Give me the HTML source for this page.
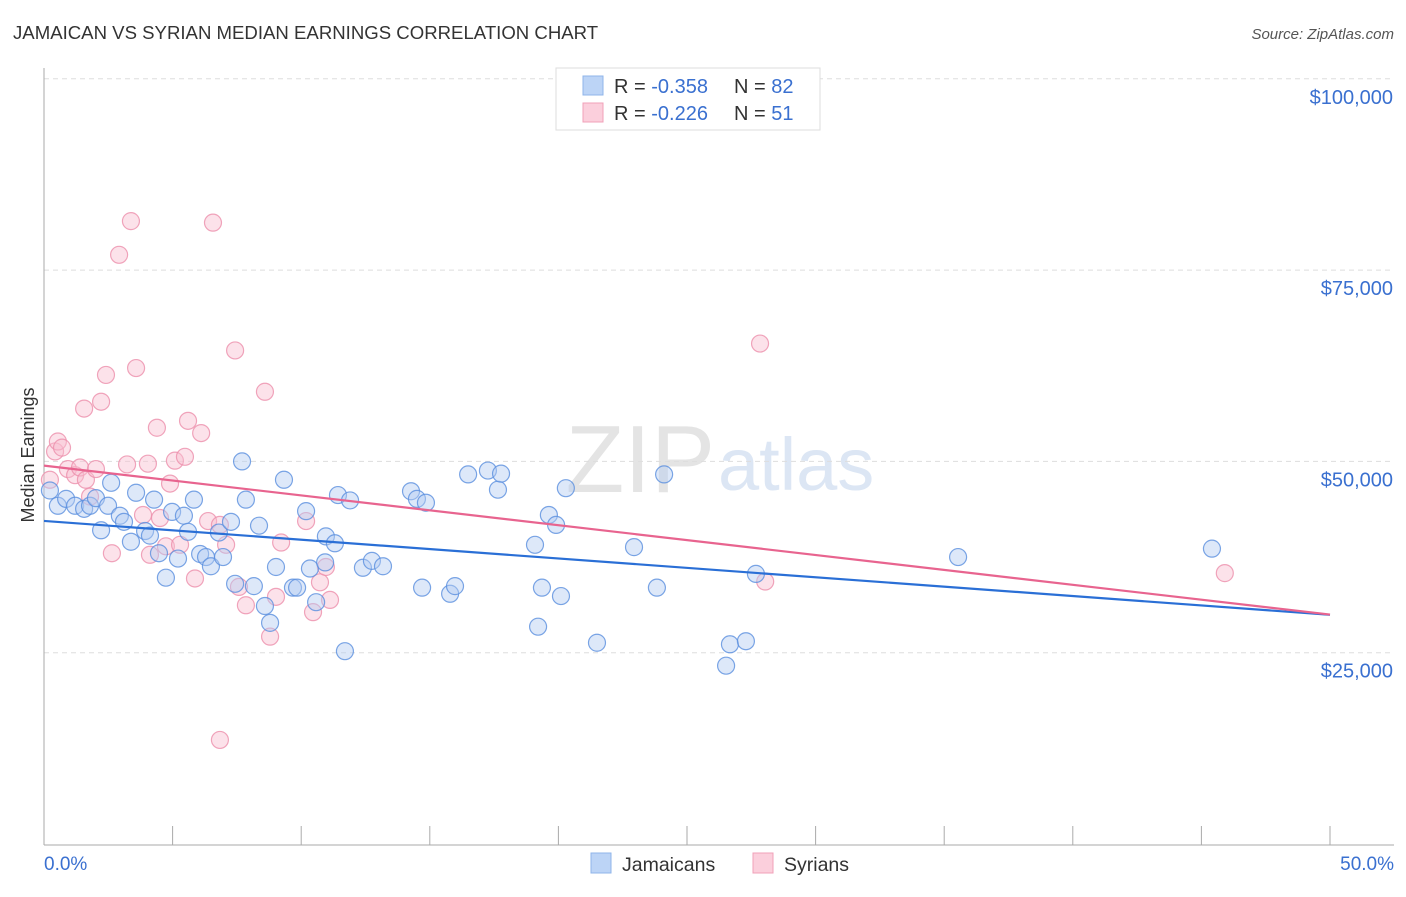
<!DOCTYPE html>
<html><head><meta charset="utf-8"><style>
body{margin:0;background:#fff;font-family:"Liberation Sans",sans-serif}
svg text{font-family:"Liberation Sans",sans-serif}
</style></head><body>
<svg id="chart" width="1406" height="892" xmlns="http://www.w3.org/2000/svg">
<text x="13" y="39" font-size="18.6" fill="#333">JAMAICAN VS SYRIAN MEDIAN EARNINGS CORRELATION CHART</text>
<text x="1394" y="39" font-size="15" fill="#555" font-style="italic" text-anchor="end">Source: ZipAtlas.com</text>
<text x="715" y="492" font-size="96" fill="#e4e4e4" text-anchor="end" font-family="Liberation Serif">ZIP</text>
<text x="718" y="490" font-size="74" fill="#dce6f4">atlas</text>
<text transform="translate(34,455) rotate(-90)" font-size="18" fill="#333" text-anchor="middle">Median Earnings</text>
<g id="grid"></g><g id="axes"></g><g id="pts"></g><g id="lines"></g>
<g>
<rect x="556" y="68" width="264" height="62" fill="#fff" stroke="#ddd"/>
<rect x="583" y="76" width="20" height="19" fill="#bcd4f6" stroke="#8fb4ea"/>
<rect x="583" y="103" width="20" height="19" fill="#fbcfdc" stroke="#f0a0b8"/>
<text x="614" y="93" font-size="20" fill="#333">R = <tspan fill="#3a70d0">-0.358</tspan><tspan x="734">N = </tspan><tspan fill="#3a70d0">82</tspan></text>
<text x="614" y="120" font-size="20" fill="#333">R = <tspan fill="#3a70d0">-0.226</tspan><tspan x="734">N = </tspan><tspan fill="#3a70d0"> 51</tspan></text>
</g>
<g>
<rect x="591" y="853" width="20" height="20" fill="#bcd4f6" stroke="#8fb4ea"/>
<text x="622" y="871" font-size="19.5" fill="#333">Jamaicans</text>
<rect x="753" y="853" width="20" height="20" fill="#fbcfdc" stroke="#f0a0b8"/>
<text x="784" y="871" font-size="19.5" fill="#333">Syrians</text>
</g>
</svg>
<script>
const yTicks=[25000,50000,75000,100000];
const yTickLabels=["$25,000","$50,000","$75,000","$100,000"];
const xTickVals=[0,5,10,15,20,25,30,35,40,45,50];
const jamX=[0.23,0.54,0.86,1.21,1.56,1.79,2.02,2.22,2.49,2.61,2.95,3.11,3.38,3.58,3.93,4.12,4.28,4.47,4.74,4.98,5.21,5.44,5.60,5.83,6.07,6.30,6.49,6.80,6.96,7.27,7.43,7.70,7.85,8.16,8.36,8.59,8.79,9.02,9.33,9.68,9.84,10.19,10.34,10.58,10.96,10.93,11.31,11.43,11.70,11.90,12.40,12.75,13.18,14.27,14.50,14.70,14.85,15.79,15.98,16.49,17.26,17.65,17.77,19.09,19.21,19.36,19.63,19.91,20.10,20.29,21.50,22.94,23.83,24.11,26.52,26.67,27.29,27.68,35.54,45.41];
const jamY=[46200,44200,45100,44200,43800,44200,45200,41000,44200,47200,42900,42100,39500,45900,40900,40300,45000,38000,34800,43400,37300,42900,40800,45000,37900,37500,36300,40700,37500,42100,34000,50000,45000,33700,41600,31100,28900,36200,47600,33500,33500,43500,36000,31600,40200,36800,39300,45600,25200,44900,36100,37000,36300,46100,45100,33500,44600,32700,33700,48300,48800,46300,48400,39100,28400,33500,43000,41700,32400,46500,26300,38800,33500,48300,23300,26100,26500,35300,37500,38600];
const syrX=[0.23,0.43,0.54,0.70,0.93,1.21,1.40,1.63,1.79,2.02,2.22,2.64,2.41,1.56,2.92,3.23,3.38,3.58,3.85,4.04,4.12,4.39,4.51,4.74,4.90,5.09,5.29,5.48,5.60,5.87,6.11,6.38,6.57,6.84,7.08,7.43,7.58,7.85,8.59,8.79,9.02,9.22,10.19,10.46,10.73,10.96,11.12,6.84,27.84,28.04,45.91];
const syrY=[47600,51300,52600,51800,49000,48200,49200,47600,45400,49000,57800,38000,61300,56900,77000,49600,81400,62200,43000,49700,37800,54400,42600,38900,47100,50100,39100,50600,55300,34700,53700,42200,81200,41700,39100,64500,33600,31200,59100,27100,32300,39400,42200,30300,34200,36200,31900,13600,65400,34300,35400];
const xPx=v=>44+v*1286/50, yPx=v=>844-v*191.3/25000;
const NS="http://www.w3.org/2000/svg";
function mk(tag,attrs,parent){const e=document.createElementNS(NS,tag);for(const k in attrs)e.setAttribute(k,attrs[k]);document.getElementById(parent).appendChild(e);return e;}
yTicks.forEach((t,i)=>{
 const g=mk('line',{x1:44,x2:1394,y1:yPx(t),y2:yPx(t),stroke:'#ddd','stroke-dasharray':'5,4'},'grid');
 
 
 const tx=mk('text',{x:1393,y:yPx(t)+25,'font-size':20,fill:'#3a70d0','text-anchor':'end'},'grid');
 tx.textContent=yTickLabels[i];
 
 
});
const ax=mk('line',{x1:44,x2:44,y1:68,y2:845,stroke:'#aaa'},'axes');


const bx=mk('line',{x1:44,x2:1394,y1:845,y2:845,stroke:'#aaa'},'axes');


xTickVals.forEach(v=>{const t=mk('line',{x1:xPx(v),x2:xPx(v),y1:826,y2:845,stroke:'#aaa'},'axes');
 
 });
const l0=mk('text',{x:44,y:870,'font-size':19,fill:'#3a70d0'},'axes');l0.textContent='0.0%';


const l1=mk('text',{x:1394,y:870,'font-size':19,fill:'#3a70d0','text-anchor':'end'},'axes');l1.textContent='50.0%';


function pts(X,Y,fill,stroke,name){X.forEach((x,i)=>{const c=mk('circle',{cx:xPx(x),cy:yPx(Y[i]),r:8.5,fill:fill,'fill-opacity':0.45,stroke:stroke,'stroke-opacity':0.8,'stroke-width':1.2},'pts');
 
 });}
pts(syrX,syrY,'#f9bfd0','#ec8fab','syrian-point');
pts(jamX,jamY,'#b4cdf2','#5a8fde','jamaican-point');
function fit(X,Y){const n=X.length,mx=X.reduce((a,b)=>a+b)/n,my=Y.reduce((a,b)=>a+b)/n;let sxy=0,sxx=0;X.forEach((x,i)=>{sxy+=(x-mx)*(Y[i]-my);sxx+=(x-mx)**2});const b=sxy/sxx;return [my-b*mx,b];}
function reg(X,Y,col,name){const [a,b]=fit(X,Y);const l=mk('line',{x1:xPx(0),y1:yPx(a),x2:xPx(50),y2:yPx(a+b*50),stroke:col,'stroke-width':2.2},'lines');
 
 }
reg(jamX,jamY,'#2a6fd6','jamaican-trend-line');
reg(syrX,syrY,'#e8648f','syrian-trend-line');
</script>
</body></html>
